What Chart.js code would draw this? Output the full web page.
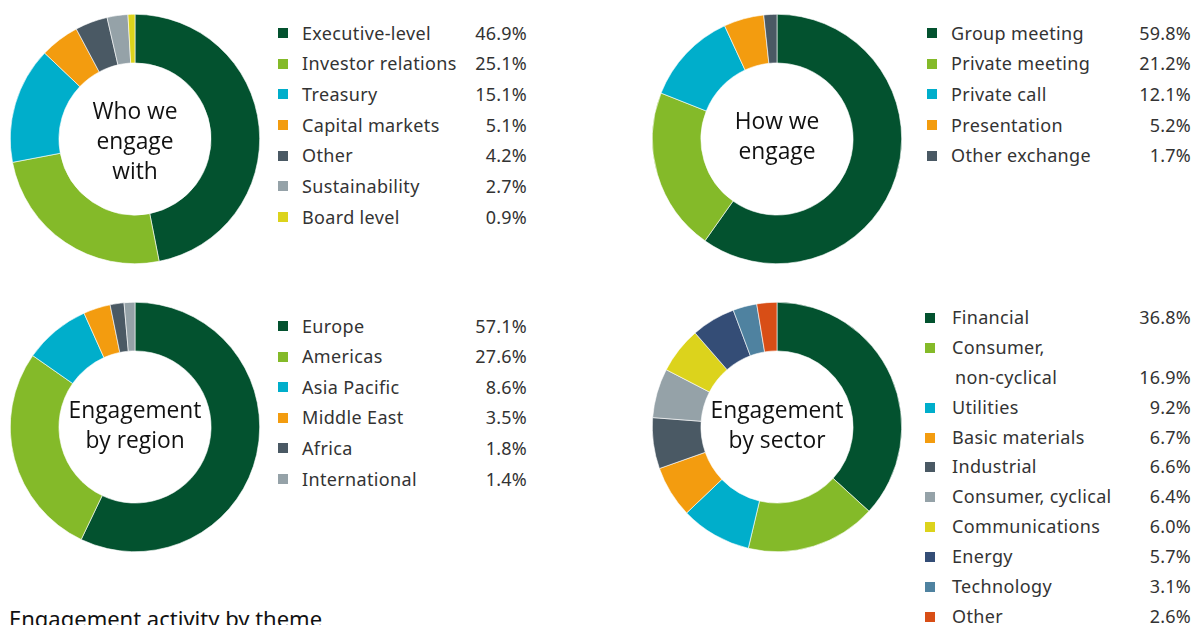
<!DOCTYPE html>
<html>
<head>
<meta charset="utf-8">
<script src="https://cdn.jsdelivr.net/npm/chart.js@4/dist/chart.umd.min.js"></script>
<style>
  html, body { margin: 0; padding: 0; background: #fff; }
  body { width: 1193px; height: 625px; overflow: hidden; position: relative; font-family: "Noto Sans", sans-serif; }
  .donut { position: absolute; width: 250px; height: 250px; }
  .legend { position: absolute; color: #333; font-size: 18px; letter-spacing: 0.35px; }
  .legend .row { position: relative; white-space: nowrap; }
  .legend .sq { position: absolute; left: 0; width: 10px; height: 10px; }
  .legend .lbl { position: absolute; left: 24px; }
  .legend .val { position: absolute; right: 0; letter-spacing: 0.2px; }
  #sector-legend .lbl { left: 27px; }
  #sector-legend .lbl.cont { left: 30px; }
  #title { position: absolute; left: 9px; top: 603px; font-size: 22px; color: #111; white-space: nowrap; }
</style>
</head>
<body>
<div class="donut" style="left:10px; top:14px;"><canvas id="who"></canvas></div>
<div class="donut" style="left:652px; top:14px;"><canvas id="how"></canvas></div>
<div class="donut" style="left:10px; top:302px;"><canvas id="region"></canvas></div>
<div class="donut" style="left:652px; top:302px;"><canvas id="sector"></canvas></div>

<div class="legend" id="who-legend" style="left:278px; top:17.6px; width:249px;"></div>
<div class="legend" id="how-legend" style="left:927px; top:17.6px; width:264px;"></div>
<div class="legend" id="region-legend" style="left:278px; top:310.7px; width:249px;"></div>
<div class="legend" id="sector-legend" style="left:925px; top:303px; width:266px;"></div>

<div id="title">Engagement activity by theme</div>

<script>
// Palette
const GREEN = '#03522f', LIME = '#84ba29', CYAN = '#00aecb', ORANGE = '#f39c0f',
      SLATE = '#4a5964', GREY = '#95a2a8', YELLOW = '#dcd31c', NAVY = '#344d76',
      STEEL = '#4f82a0', RED = '#d84e16';

// Who we engage with
const whoLabels = ['Executive-level', 'Investor relations', 'Treasury', 'Capital markets', 'Other', 'Sustainability', 'Board level'];
const whoValues = [46.9, 25.1, 15.1, 5.1, 4.2, 2.7, 0.9];
const whoColours = [GREEN, LIME, CYAN, ORANGE, SLATE, GREY, YELLOW];

// How we engage
const howLabels = ['Group meeting', 'Private meeting', 'Private call', 'Presentation', 'Other exchange'];
const howValues = [59.8, 21.2, 12.1, 5.2, 1.7];
const howColours = [GREEN, LIME, CYAN, ORANGE, SLATE];

// Engagement by region
const regionLabels = ['Europe', 'Americas', 'Asia Pacific', 'Middle East', 'Africa', 'International'];
const regionValues = [57.1, 27.6, 8.6, 3.5, 1.8, 1.4];
const regionColours = [GREEN, LIME, CYAN, ORANGE, SLATE, GREY];

// Engagement by sector
const sectorLabels = ['Financial', ['Consumer,', 'non-cyclical'], 'Utilities', 'Basic materials', 'Industrial',
                      'Consumer, cyclical', 'Communications', 'Energy', 'Technology', 'Other'];
const sectorValues = [36.8, 16.9, 9.2, 6.7, 6.6, 6.4, 6.0, 5.7, 3.1, 2.6];
const sectorColours = [GREEN, LIME, CYAN, ORANGE, SLATE, GREY, YELLOW, NAVY, STEEL, RED];

// Text in the hole of each ring
const centreText = {
    id: 'centreText',
    afterDraw(chart, args, opts) {
        const { ctx, chartArea } = chart;
        const cx = (chartArea.left + chartArea.right) / 2;
        const cy = (chartArea.top + chartArea.bottom) / 2 + (opts.shift || 0);
        const lines = opts.lines || [];
        const lh = 30;
        ctx.save();
        ctx.font = '22.8px "Open Sans", sans-serif';
        ctx.fillStyle = '#111';
        ctx.textAlign = 'center';
        ctx.textBaseline = 'middle';
        lines.forEach((t, i) => {
            ctx.fillText(t, cx, cy + (i - (lines.length - 1) / 2) * lh);
        });
        ctx.restore();
    }
};

function makeDonut(id, labels, values, colours, lines, shift) {
    return new Chart(document.getElementById(id), {
        type: 'doughnut',
        data: {
            labels: labels,
            datasets: [{
                data: values,
                backgroundColor: colours,
                borderColor: '#ffffff',
                borderWidth: 0.6
            }]
        },
        options: {
            responsive: true,
            maintainAspectRatio: false,
            animation: false,
            cutout: '61%',
            layout: { padding: 0 },
            plugins: {
                legend: { display: false },
                tooltip: { enabled: false },
                centreText: { lines: lines, shift: shift }
            }
        },
        plugins: [centreText]
    });
}

function buildLegend(id, labels, values, colours, rowH) {
    const box = document.getElementById(id);
    labels.forEach((label, i) => {
        const parts = Array.isArray(label) ? label : [label];
        parts.forEach((part, j) => {
            const row = document.createElement('div');
            row.className = 'row';
            row.style.height = rowH + 'px';
            row.style.lineHeight = rowH + 'px';
            if (j === 0) {
                const sq = document.createElement('span');
                sq.className = 'sq';
                sq.style.top = (rowH / 2 - 5) + 'px';
                sq.style.background = colours[i];
                row.appendChild(sq);
            }
            const lbl = document.createElement('span');
            lbl.className = j === 0 ? 'lbl' : 'lbl cont';
            lbl.textContent = part;
            row.appendChild(lbl);
            if (j === parts.length - 1) {
                const val = document.createElement('span');
                val.className = 'val';
                val.textContent = values[i].toFixed(1) + '%';
                row.appendChild(val);
            }
            box.appendChild(row);
        });
    });
}

makeDonut('who', whoLabels, whoValues, whoColours, ['Who we', 'engage', 'with'], 4);
makeDonut('how', howLabels, howValues, howColours, ['How we', 'engage'], -1);
makeDonut('region', regionLabels, regionValues, regionColours, ['Engagement', 'by region'], 0);
makeDonut('sector', sectorLabels, sectorValues, sectorColours, ['Engagement', 'by sector'], 0);

buildLegend('who-legend', whoLabels, whoValues, whoColours, 30.7);
buildLegend('how-legend', howLabels, howValues, howColours, 30.7);
buildLegend('region-legend', regionLabels, regionValues, regionColours, 30.6);
buildLegend('sector-legend', sectorLabels, sectorValues, sectorColours, 29.9);
</script>
</body>
</html>
